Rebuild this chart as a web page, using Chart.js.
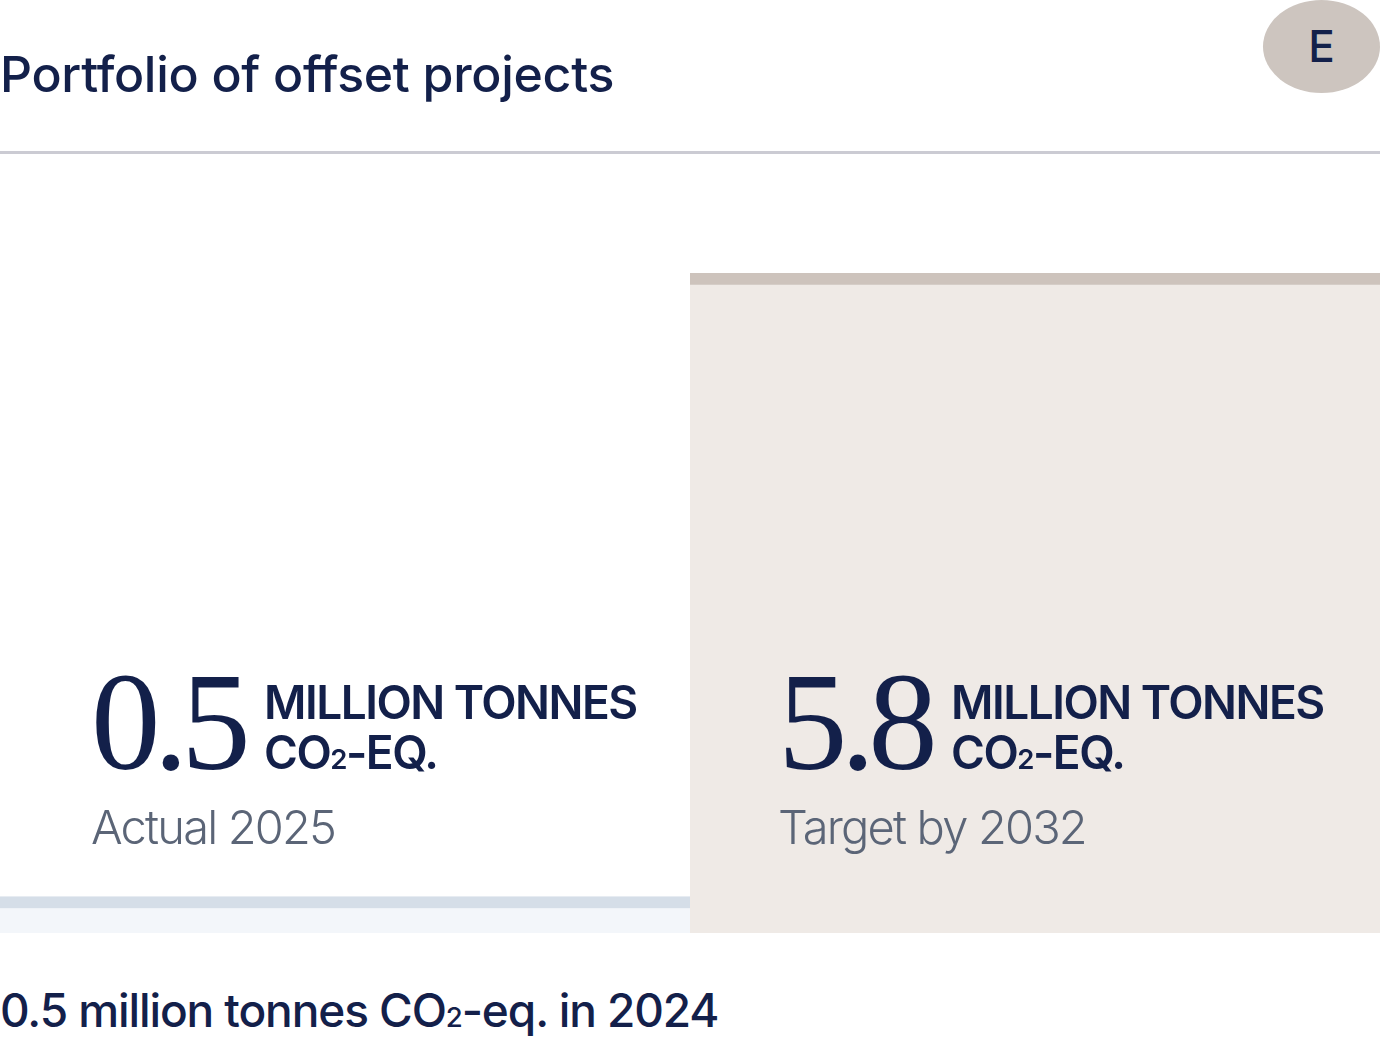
<!DOCTYPE html>
<html>
<head>
<meta charset="utf-8">
<script src="https://cdn.jsdelivr.net/npm/chart.js@4.4.1/dist/chart.umd.min.js"></script>
<style>
  html, body { margin: 0; padding: 0; background: #fff; }
  body { width: 1380px; height: 1038px; position: relative; overflow: hidden; font-family: Inter, "Noto Sans", sans-serif; color: #13204a; }
  #title { position: absolute; left: 0; top: 44px; font-size: 50px; font-weight: 500; letter-spacing: -0.3px; white-space: nowrap; line-height: 60px; }
  #rule { position: absolute; left: 0; top: 151px; width: 1380px; height: 3px; background: #cbcbd3; }
  #badge { position: absolute; left: 1263px; top: 0; width: 117px; height: 93px; border-radius: 50%; background: #cdc5bf; font-size: 44px; font-weight: 500; text-align: center; line-height: 93px; }
  #chartBox { position: absolute; left: 0; top: 273px; width: 1380px; height: 660px; }
  .note { position: absolute; white-space: nowrap; }
  .big { position: absolute; left: 0; top: -3px; font-family: "Liberation Serif", "DejaVu Serif", serif; font-size: 139px; line-height: 140px; letter-spacing: -7px; }
  .unit { position: absolute; top: 22px; font-size: 46px; font-weight: 600; line-height: 50px; letter-spacing: -1.5px; }
  .unit sub, #caption sub { font-size: 0.6em; vertical-align: 0; }
  .cat { position: absolute; left: 0; top: 144px; font-size: 47px; font-weight: 300; color: #5b6577; letter-spacing: -1.8px; line-height: 56px; }
  #caption { position: absolute; left: 0; top: 982px; font-size: 46px; font-weight: 500; letter-spacing: -1.1px; white-space: nowrap; line-height: 56px; }
</style>
</head>
<body>
<div id="title">Portfolio of offset projects</div>
<div id="badge">E</div>
<div id="rule"></div>
<div id="chartBox"><canvas id="offsetChart"></canvas></div>
<div id="caption">0.5 million tonnes CO<sub>2</sub>-eq. in 2024</div>

<script>
// Dati del grafico
const categories = ["Actual 2025", "Target by 2032"];
const values = [0.5, 5.8];
const valueLabels = ["0.5", "5.8"];
const unitLabel = "MILLION TONNES<br>CO<sub>2</sub>-EQ.";

const fillColors = ["#f3f6fa", "#efeae6"];
const topColors = ["#d5dee8", "#cdc3bc"];

document.addEventListener("DOMContentLoaded", function () {
    renderOffsetChart();
});

// Posiziona le etichette sopra le colonne
const notesPlugin = {
    id: "notes",
    afterRender(chart) {
        const xScale = chart.scales.x;
        const half = xScale.width / categories.length / 2;
        categories.forEach((cat, i) => {
            let note = document.getElementById("note" + i);
            if (!note) {
                note = document.createElement("div");
                note.id = "note" + i;
                note.className = "note";
                note.innerHTML = `
                    <div class="big">${valueLabels[i]}</div>
                    <div class="unit">${unitLabel}</div>
                    <div class="cat">${cat}</div>
                `;
                document.body.appendChild(note);
            }
            const left = xScale.getPixelForValue(i) - half + (i === 0 ? 91 : 88);
            note.style.left = left + "px";
            note.style.top = "655px";
            const big = note.querySelector(".big");
            note.querySelector(".unit").style.left = (big.offsetWidth + 20) + "px";
        });
    }
};

function renderOffsetChart() {
    const ctx = document.getElementById("offsetChart").getContext("2d");

    new Chart(ctx, {
        type: "bar",
        data: {
            labels: categories,
            datasets: [{
                data: values,
                backgroundColor: fillColors,
                borderColor: topColors,
                borderWidth: { top: 12, left: 0, right: 0, bottom: 0 },
                borderSkipped: false,
                categoryPercentage: 1,
                barPercentage: 1
            }]
        },
        options: {
            responsive: true,
            maintainAspectRatio: false,
            animation: false,
            layout: { padding: 0 },
            plugins: {
                legend: { display: false },
                tooltip: { enabled: false }
            },
            scales: {
                x: { display: false },
                y: { display: false, min: 0.19, max: 5.8 }
            }
        },
        plugins: [notesPlugin]
    });
}
</script>
</body>
</html>
